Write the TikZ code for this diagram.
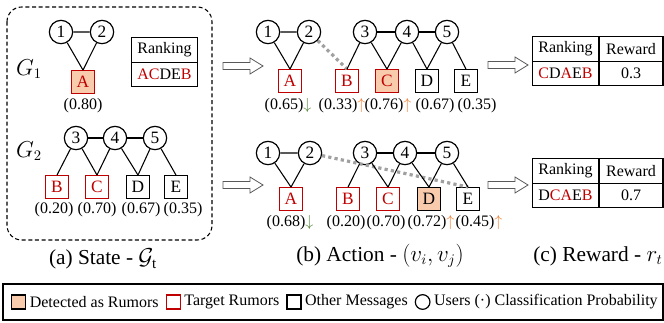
\documentclass[tikz,border=0pt]{standalone}
\usepackage{fontspec}
\setmainfont{Liberation Serif}
\usetikzlibrary{positioning}

\definecolor{rumorred}{RGB}{192,0,0}
\definecolor{detfill}{RGB}{248,203,173}
\definecolor{uporange}{RGB}{237,125,49}
\definecolor{downgreen}{RGB}{84,130,53}
\definecolor{dotgray}{RGB}{160,160,160}
\definecolor{arrowgray}{RGB}{89,89,89}

\tikzset{
  user/.style={circle, draw, line width=0.9pt, minimum size=17.5pt, inner sep=0pt, font=\fontsize{13}{15}\selectfont},
  msg/.style={rectangle, draw, line width=0.9pt, minimum size=17pt, inner sep=0pt, font=\fontsize{13}{15}\selectfont},
  target/.style={msg, draw=rumorred, text=rumorred},
  detected/.style={fill=detfill},
  prob/.style={inner sep=0pt},
  cell/.style={draw, line width=0.9pt, minimum height=18.4pt, inner sep=0pt},
  link/.style={line width=0.8pt},
  added/.style={line width=2.4pt, dotgray, dash pattern=on 2.4pt off 2.4pt},
  hollow/.style={draw=arrowgray, fill=white, line width=0.6pt},
  glabel/.style={font=\fontsize{16}{18}\selectfont},
  caption/.style={font=\fontsize{16}{18}\selectfont},
  legsq/.style={minimum size=10.5pt},
  legtext/.style={inner sep=1pt, font=\fontsize{12}{14}\selectfont}
}

\newcommand{\R}[1]{\textcolor{rumorred}{#1}}
\newcommand{\probup}{\textcolor{uporange}{$\uparrow$}}
\newcommand{\probdown}{\textcolor{downgreen}{$\downarrow$}}
\newcommand{\hollowarrow}[2]{%
  \draw[hollow] (#1,#2-3.5) -- ++(27,0) -- ++(0,-4.5) -- ++(13,8)
    -- ++(-13,8) -- ++(0,-4.5) -- ++(-27,0) -- cycle;}

\begin{document}
\begin{tikzpicture}[x=0.75pt, y=-0.75pt, font=\fontsize{12}{14}\selectfont]
  \useasboundingbox (0,0) rectangle (664,322);

  % (a) State
  \draw[line width=0.8pt, dash pattern=on 3pt off 2pt, rounded corners=11pt] (7,7) rectangle (212,240);
  \node (sg1) at (29,69) [glabel] {$G_1$};
  \node (s1) at (61,32) [user] {1};
  \node (s2) at (102,32) [user] {2};
  \node (sA) at (83,82) [target, detected] {A};
  \node (spA) at (83,106) [prob] {(0.80)};
  \node (srk) at (164.5,50) [cell, minimum width=50pt] {Ranking};
  \node (srl) at (164.5,74.5) [cell, minimum width=50pt] {\R{A}\R{C}DE\R{B}};

  \node (sg2) at (29,151) [glabel] {$G_2$};
  \node (s3) at (76,138) [user] {3};
  \node (s4) at (115,138) [user] {4};
  \node (s5) at (155,138) [user] {5};
  \node (sB) at (57,187) [target] {B};
  \node (sC) at (97,187) [target] {C};
  \node (sD) at (138,187) [msg] {D};
  \node (sE) at (176,187) [msg] {E};
  \node (spB) at (54,210) [prob] {(0.20)};
  \node (spC) at (97,210) [prob] {(0.70)};
  \node (spD) at (141,210) [prob] {(0.67)};
  \node (spE) at (183,210) [prob] {(0.35)};

  \draw[link] (s1) -- (s2) (s1) -- (sA.north) (s2) -- (sA.north);
  \draw[link] (s3) -- (s4) -- (s5);
  \draw[link] (s3) -- (sB.north) (s3) -- (sC.north) (s4) -- (sC.north)
              (s4) -- (sD.north) (s5) -- (sD.north) (s5) -- (sE.north);
  \node (scap) at (103,259) [caption] {(a) State - $\mathcal{G}_{\mathrm{t}}$};

  % (b) Action, first graph
  \hollowarrow{223}{66}
  \node (t1) at (268,32) [user] {1};
  \node (t2) at (309,32) [user] {2};
  \node (t3) at (365,32) [user] {3};
  \node (t4) at (407,32) [user] {4};
  \node (t5) at (447,32) [user] {5};
  \node (tA) at (290,81) [target] {A};
  \node (tB) at (347,81) [target] {B};
  \node (tC) at (387,81) [target, detected] {C};
  \node (tD) at (427,81) [msg] {D};
  \node (tE) at (466,81) [msg] {E};
  \node (tpA) at (288,106) [prob] {(0.65)\probdown};
  \node (tpB) at (342,106) [prob] {(0.33)\probup};
  \node (tpC) at (388,106) [prob] {(0.76)\probup};
  \node (tpD) at (435,106) [prob] {(0.67)};
  \node (tpE) at (477,106) [prob] {(0.35)};

  \draw[added] (t2) -- (tB.north);
  \draw[link] (t1) -- (t2) (t1) -- (tA.north) (t2) -- (tA.north);
  \draw[link] (t3) -- (t4) -- (t5);
  \draw[link] (t3) -- (tB.north) (t3) -- (tC.north) (t4) -- (tC.north)
              (t4) -- (tD.north) (t5) -- (tD.north) (t5) -- (tE.north);

  % (b) Action, second graph
  \hollowarrow{223}{185}
  \node (b1) at (268,153) [user] {1};
  \node (b2) at (310,153) [user] {2};
  \node (b3) at (365,153) [user] {3};
  \node (b4) at (405,153) [user] {4};
  \node (b5) at (447,153) [user] {5};
  \node (bA) at (291,199) [target] {A};
  \node (bB) at (348,199) [target] {B};
  \node (bC) at (388,199) [target] {C};
  \node (bD) at (429,199) [msg, detected] {D};
  \node (bE) at (468,199) [msg] {E};
  \node (bpA) at (290,223) [prob] {(0.68)\probdown};
  \node (bpB) at (346,223) [prob] {(0.20)};
  \node (bpC) at (386,223) [prob] {(0.70)};
  \node (bpD) at (431,223) [prob] {(0.72)\probup};
  \node (bpE) at (479,223) [prob] {(0.45)\probup};

  \draw[added] (b2) -- (bE.north);
  \draw[link] (b1) -- (b2) (b1) -- (bA.north) (b2) -- (bA.north);
  \draw[link] (b3) -- (b4) -- (b5);
  \draw[link] (b3) -- (bB.north) (b3) -- (bC.north) (b4) -- (bC.north)
              (b4) -- (bD.north) (b5) -- (bD.north) (b5) -- (bE.north);
  \node (bcap) at (380,256) [caption] {(b) Action - $(v_i, v_j)$};

  % (c) Reward
  \hollowarrow{488}{65}
  \node (rk1) at (565.5,49) [cell, minimum width=50pt] {Ranking};
  \node (rw1) at (631,49) [cell, minimum width=48pt] {Reward};
  \node (rl1) at (565.5,73.5) [cell, minimum width=50pt] {\R{C}D\R{A}E\R{B}};
  \node (rv1) at (631,73.5) [cell, minimum width=48pt] {0.3};

  \hollowarrow{488}{185}
  \node (rk2) at (565.5,171) [cell, minimum width=50pt] {Ranking};
  \node (rw2) at (631,171) [cell, minimum width=48pt] {Reward};
  \node (rl2) at (565.5,195.5) [cell, minimum width=50pt] {D\R{C}\R{A}E\R{B}};
  \node (rv2) at (631,195.5) [cell, minimum width=48pt] {0.7};
  \node (rcap) at (598,256) [caption] {(c) Reward - $r_t$};

  % Legend
  \draw[line width=0.8pt] (3,284) rectangle (663,320);
  \node (l1) at (11,302) [msg, detected, legsq, anchor=west] {};
  \node (l1t) [legtext, right=1.5pt of l1] {Detected as Rumors};
  \node (l2) [target, legsq, right=4pt of l1t] {};
  \node (l2t) [legtext, right=1.5pt of l2] {Target Rumors};
  \node (l3) [msg, legsq, right=4pt of l2t] {};
  \node (l3t) [legtext, right=1.5pt of l3] {Other Messages};
  \node (l4) [user, minimum size=11pt, right=4pt of l3t] {};
  \node (l4t) [legtext, right=1.5pt of l4] {Users (·) Classification Probability};
\end{tikzpicture}
\end{document}
